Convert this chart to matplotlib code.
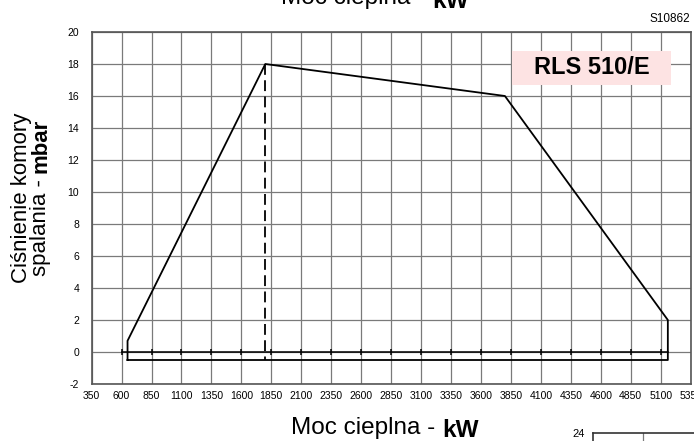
import numpy as np
import matplotlib.pyplot as plt
from matplotlib.patches import Rectangle

plt.rcParams['font.family'] = ['Liberation Sans', 'DejaVu Sans']

# obszar pracy palnika (kW, mbar)
moc = [650, 650, 1800, 3800, 5160, 5160, 650]
cisnienie = [-0.5, 0.7, 18, 16, 2, -0.5, -0.5]

# linia przerywana przy punkcie maksymalnym
moc_kreska = [1800, 1800]
cisn_kreska = [18, -0.5]

# linia zero z kreskami
moc_zero = np.arange(600, 5101, 250)

x_ticks = np.arange(350, 5351, 250)
y_ticks = np.arange(-2, 21, 2)

W, H = 694, 441
fig = plt.figure(figsize=(W / 100, H / 100), dpi=100)
ax = fig.add_axes([91.6 / W, 1 - 384 / H, 599 / W, 352 / H])

ax.plot(moc, cisnienie, color='black', lw=1.3, zorder=3)
ax.plot(moc_kreska, cisn_kreska, color='black', lw=1.3, dashes=(6, 3), zorder=3)
ax.plot([600, 5160], [0, 0], color='black', lw=1.1, zorder=3)
ax.plot(moc_zero, np.zeros(len(moc_zero)), ls='none', marker='|', ms=4,
        mew=1.1, color='black', zorder=3)

narrow = ['Liberation Sans Narrow', 'Liberation Sans']
ax.set_xlim(350, 5350)
ax.set_ylim(-2, 20)
ax.set_xticks(x_ticks)
ax.set_yticks(y_ticks)
ax.set_xticklabels([str(v) for v in x_ticks], fontsize=7.5, family=narrow)
ax.set_yticklabels([str(v) for v in y_ticks], fontsize=7.5, family=narrow)
ax.tick_params(axis='x', length=0, pad=5)
ax.tick_params(axis='y', length=0, pad=9)
ax.grid(True, color='#7a7a7a', lw=0.9)
ax.set_axisbelow(True)
for s in ax.spines.values():
    s.set_color('#555555')
    s.set_linewidth(1.2)

# etykieta modelu
ax.add_patch(Rectangle((0.7018, 0.8494), 0.2654, 0.0966, transform=ax.transAxes,
                       fc='#fde3e3', ec='none', zorder=4))
ax.text(0.8346, 0.898, 'RLS 510/E', transform=ax.transAxes, ha='center', va='center',
        fontsize=17, fontweight='bold', zorder=5)

fig.text(1 - 4 / W, 1 - 19 / H, 'S10862', ha='right', va='center', fontsize=8.5)

# podpisy osi Y (obrócone, kotwica = linia bazowa)
fig.text(27 / W, 1 - 198 / H, 'Ciśnienie komory', rotation=90, rotation_mode='anchor',
         ha='center', va='baseline', fontsize=16)
fig.text(46 / W, 1 - 173 / H, 'spalania - ', rotation=90, rotation_mode='anchor',
         ha='right', va='baseline', fontsize=16)
fig.text(46 / W, 1 - 173 / H, 'mbar', rotation=90, rotation_mode='anchor',
         ha='left', va='baseline', fontsize=16, fontweight='bold')

# dolny podpis osi X
fig.text(435 / W, 1 - 434 / H, 'Moc cieplna -', ha='right', va='baseline', fontsize=17.5)
fig.text(442 / W, 1 - 437 / H, 'kW', ha='left', va='baseline', fontsize=17.5, fontweight='bold')
# górny (ucięty) podpis z poprzedniego wykresu
fig.text(425 / W, 1 - 4 / H, 'Moc cieplna -', ha='right', va='baseline', fontsize=17.5)
fig.text(432 / W, 1 - 8 / H, 'kW', ha='left', va='baseline', fontsize=17.5, fontweight='bold')

# kawałek następnego wykresu
ax2 = fig.add_axes([593 / W, -0.3, 0.2, 0.3 + 1 - 433 / H])
ax2.set_xlim(0, 1)
ax2.set_ylim(0, 24)
ax2.set_xticks([50 / (0.2 * W)])
ax2.set_xticklabels([])
ax2.set_yticks([24])
ax2.set_yticklabels(['24'], fontsize=8)
ax2.tick_params(length=0, pad=6)
ax2.grid(True, axis='x', color='#7a7a7a', lw=0.9)
for s in ax2.spines.values():
    s.set_color('#333333')
    s.set_linewidth(1.2)

fig.savefig('out.png', dpi=100)
